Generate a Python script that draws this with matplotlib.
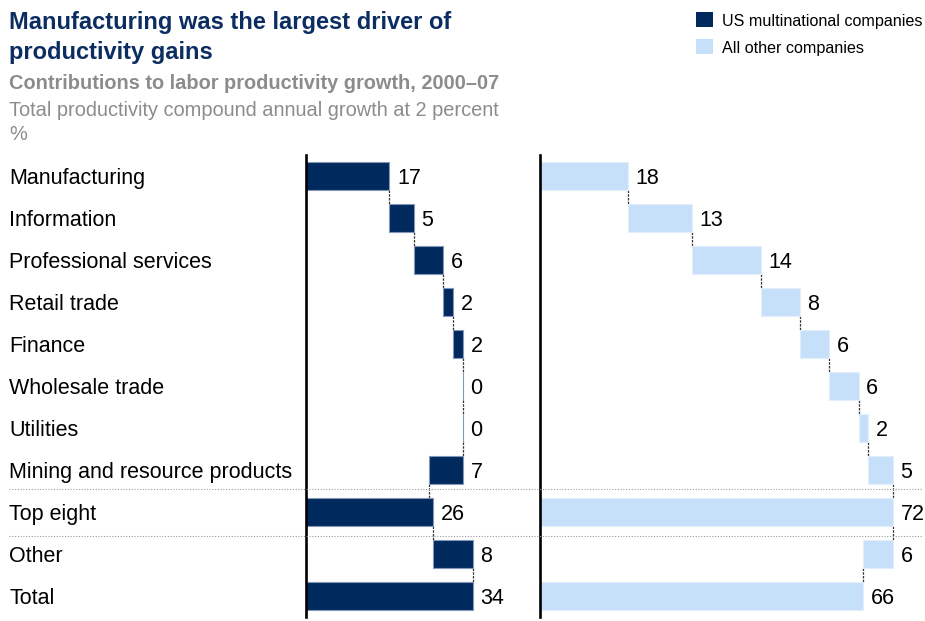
import matplotlib
matplotlib.use("Agg")
import matplotlib.pyplot as plt
from matplotlib import transforms
from matplotlib.lines import Line2D
from matplotlib.patches import Rectangle

plt.rcParams['font.family'] = ['Liberation Sans', 'DejaVu Sans']

# ---- data -------------------------------------------------------------
categories = ["Manufacturing", "Information", "Professional services",
              "Retail trade", "Finance", "Wholesale trade", "Utilities",
              "Mining and resource products", "Top eight", "Other", "Total"]
# 's' = step of the waterfall, 't' = subtotal bar starting at zero
kinds = ['s', 's', 's', 's', 's', 's', 's', 's', 't', 's', 't']
us_multinational = [17, 5, 6, 2, 2, 0, 0, -7, 26, 8, 34]
all_other = [18, 13, 14, 8, 6, 6, 2, 5, 72, -6, 66]

series_names = ["US multinational companies", "All other companies"]

# ---- style ------------------------------------------------------------
W, H, DPI = 925, 621, 100
NAVY = '#00295e'
LIGHT = '#c7e0f9'
GRAY = '#8c8c8c'
PX_PER_UNIT = 4.9
BAR_H = 0.68


def px(x):
    return x / W


def py(y):
    return 1 - y / H


def waterfall(values, kinds):
    starts, ends = [], []
    run = 0
    for v, k in zip(values, kinds):
        if k == 't':
            starts.append(0)
            ends.append(v)
            run = v
        else:
            starts.append(run)
            ends.append(run + v)
            run += v
    return starts, ends


fig = plt.figure(figsize=(W / DPI, H / DPI), dpi=DPI)
fig.patch.set_facecolor('white')

ax_top, ax_bot = 155, 617
ax_l = fig.add_axes([px(306), py(ax_bot), px(539 - 306), (ax_bot - ax_top) / H])
ax_r = fig.add_axes([px(540), py(ax_bot), px(925 - 540), (ax_bot - ax_top) / H])

panels = [
    (ax_l, us_multinational, NAVY, '#8397b8', (539 - 306) / PX_PER_UNIT),
    (ax_r, all_other, LIGHT, '#e4eefb', (925 - 540) / PX_PER_UNIT),
]

rows = list(range(len(categories)))

for ax, vals, color, edge, xmax in panels:
    starts, ends = waterfall(vals, kinds)
    widths = [e - s for s, e in zip(starts, ends)]
    ax.barh(rows, widths, left=starts, height=BAR_H, color=color,
            edgecolor=edge, linewidth=0.8, zorder=2)
    # dashed connectors between consecutive bars
    for i in range(len(rows) - 1):
        x = ends[i]
        ax.plot([x, x], [i + BAR_H / 2, i + 1 - BAR_H / 2], color='#333333',
                lw=0.9, ls=(0, (2, 1)), zorder=1, solid_capstyle='butt')
    # value labels to the right of each bar
    lab_trans = transforms.offset_copy(ax.transData, fig=fig, x=5.5, y=-5.5,
                                       units='points')
    for i, (s, e, v) in enumerate(zip(starts, ends, vals)):
        ax.text(max(s, e), i, f"{abs(v)}", transform=lab_trans,
                ha='left', va='baseline', fontsize=15.5, color='black',
                clip_on=False)
    ax.set_xlim(0, xmax)
    ax.set_ylim(len(rows) - 0.5, -0.5)
    ax.set_xticks([])
    ax.set_yticks([])
    for side in ('top', 'right', 'bottom'):
        ax.spines[side].set_visible(False)
    ax.spines['left'].set_linewidth(1.9)
    ax.spines['left'].set_color('black')
    ax.patch.set_alpha(0)

# category names down the left side
row_trans = transforms.blended_transform_factory(fig.transFigure, ax_l.transData)
cat_trans = transforms.offset_copy(row_trans, fig=fig, y=-5.5, units='points')
for i, cat in enumerate(categories):
    ax_l.text(px(9), i, cat, transform=cat_trans, ha='left', va='baseline',
              fontsize=15.5, color='black', clip_on=False)

# dotted separators around the "Top eight" row
for ysep in (7.45, 8.56):
    fig.add_artist(Line2D([px(9), px(922)], [ysep, ysep], transform=row_trans,
                          color='#9a9a9a', lw=0.8, ls=(0, (1, 1.5))))

# headings
fig.text(px(9), py(29.5), "Manufacturing was the largest driver of",
         fontsize=17, fontweight='bold', color='#0b2d62', va='baseline')
fig.text(px(9), py(58.5), "productivity gains",
         fontsize=17, fontweight='bold', color='#0b2d62', va='baseline')
fig.text(px(9), py(89), "Contributions to labor productivity growth, 2000\u201307",
         fontsize=14.4, fontweight='bold', color=GRAY, va='baseline')
fig.text(px(9), py(116.5), "Total productivity compound annual growth at 2 percent",
         fontsize=14.4, color=GRAY, va='baseline')
fig.text(px(9), py(140), "%", fontsize=14.4, color=GRAY, va='baseline')

# legend
for (name, col, ytop, ybase) in [(series_names[0], NAVY, 11.5, 26),
                                  (series_names[1], LIGHT, 38.5, 53)]:
    fig.add_artist(Rectangle((px(696), py(ytop + 15.5)), px(17), 15.5 / H,
                             transform=fig.transFigure, facecolor=col,
                             edgecolor='none'))
    fig.text(px(722.5), py(ybase), name, fontsize=11.6, color='black',
             va='baseline')

fig.savefig("out.png", dpi=DPI, facecolor='white')
